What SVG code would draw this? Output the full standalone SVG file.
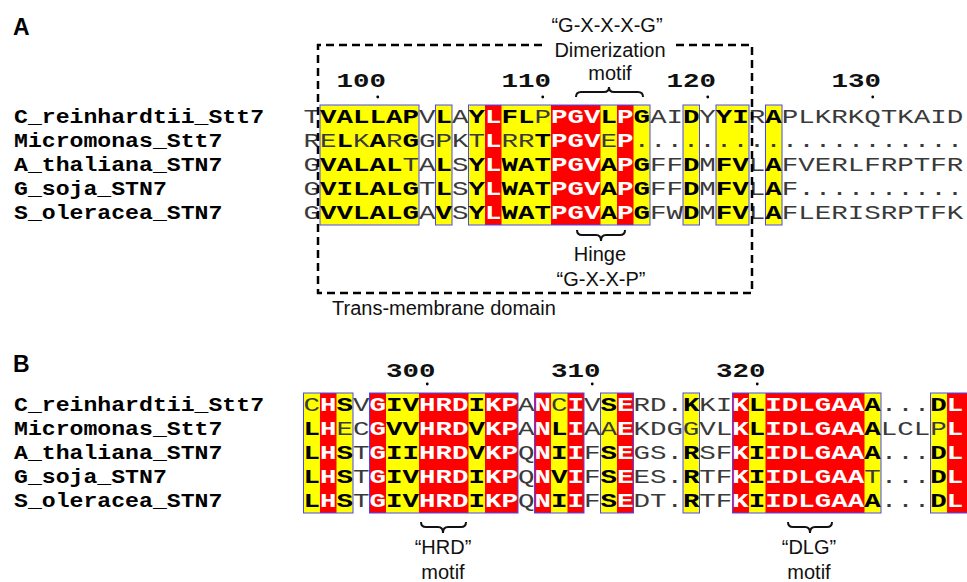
<svg xmlns="http://www.w3.org/2000/svg" width="967" height="582" viewBox="0 0 967 582">
<style>
.seq{font-family:"Liberation Mono","DejaVu Sans Mono",monospace;font-size:20px;}
.nm{font-family:"Liberation Mono","DejaVu Sans Mono",monospace;font-size:20px;font-weight:bold;fill:#000;}
.n{fill:#3a3a3a;}
.b{font-weight:bold;fill:#000;}
.w{font-weight:bold;fill:#fff;}
.num{font-weight:bold;fill:#111;}
.lab{font-family:"Liberation Sans",Arial,sans-serif;font-size:20px;fill:#111;}
.mid{text-anchor:middle;}
.pl{font-family:"Liberation Sans",Arial,sans-serif;font-size:23px;font-weight:bold;fill:#000;}
.y{fill:#ffff00;}
.r{fill:#ff0000;}
.box{fill:none;stroke:#4646ff;stroke-width:1;}
.brace{fill:none;stroke:#111;stroke-width:2;}
.dash{fill:none;stroke:#000;stroke-width:2.5;stroke-dasharray:8 5;}
</style>

<!-- Panel A -->
<g id="panelA">
  <text class="pl" x="13" y="35">A</text>
  <g id="A-shading">
    <rect class="y" x="320" y="105" width="99" height="120"/>
    <rect class="y" x="435.5" y="105" width="16.5" height="120"/>
    <rect class="y" x="468.5" y="105" width="181.5" height="120"/>
    <rect class="y" x="683" y="105" width="16.5" height="120"/>
    <rect class="y" x="716" y="105" width="33" height="120"/>
    <rect class="y" x="765.5" y="105" width="16.5" height="120"/>
    <rect class="r" x="485" y="105" width="16.5" height="120"/>
    <rect class="r" x="551" y="105" width="49.5" height="120"/>
    <rect class="r" x="617" y="105" width="16.5" height="120"/>
    <rect class="box" x="320" y="105" width="99" height="120"/>
    <rect class="box" x="435.5" y="105" width="16.5" height="120"/>
    <rect class="box" x="468.5" y="105" width="181.5" height="120"/>
    <rect class="box" x="683" y="105" width="16.5" height="120"/>
    <rect class="box" x="716" y="105" width="33" height="120"/>
    <rect class="box" x="765.5" y="105" width="16.5" height="120"/>
  </g>
  <g id="A-names" transform="translate(14,0) scale(1.158,1)">
    <text class="nm" x="0" y="123">C_reinhardtii_Stt7</text>
    <text class="nm" x="0" y="147">Micromonas_Stt7</text>
    <text class="nm" x="0" y="171">A_thaliana_STN7</text>
    <text class="nm" x="0" y="195">G_soja_STN7</text>
    <text class="nm" x="0" y="219">S_oleracea_STN7</text>
  </g>
  <g id="A-seq" class="seq" transform="translate(303.5,0) scale(1.375,1)">
    <text class="num" x="24" y="87">100</text>
    <text class="num" x="144" y="87">110</text>
    <text class="num" x="264" y="87">120</text>
    <text class="num" x="384" y="87">130</text>
    <text x="0" y="123"><tspan class="n">T</tspan><tspan class="b">VALLAP</tspan><tspan class="n">V</tspan><tspan class="b">L</tspan><tspan class="n">A</tspan><tspan class="b">Y</tspan><tspan class="w">L</tspan><tspan class="b">FL</tspan><tspan class="n">P</tspan><tspan class="w">PGV</tspan><tspan class="b">L</tspan><tspan class="w">P</tspan><tspan class="b">G</tspan><tspan class="n">AI</tspan><tspan class="b">D</tspan><tspan class="n">Y</tspan><tspan class="b">YI</tspan><tspan class="n">R</tspan><tspan class="b">A</tspan><tspan class="n">PLKRKQTKAID</tspan></text>
    <text x="0" y="147"><tspan class="n">RE</tspan><tspan class="b">L</tspan><tspan class="n">K</tspan><tspan class="b">A</tspan><tspan class="n">R</tspan><tspan class="b">G</tspan><tspan class="n">GPKT</tspan><tspan class="w">L</tspan><tspan class="n">RR</tspan><tspan class="b">T</tspan><tspan class="w">PGV</tspan><tspan class="n">E</tspan><tspan class="w">P</tspan><tspan class="n">....................</tspan></text>
    <text x="0" y="171"><tspan class="n">G</tspan><tspan class="b">VALAL</tspan><tspan class="n">TA</tspan><tspan class="b">L</tspan><tspan class="n">S</tspan><tspan class="b">Y</tspan><tspan class="w">L</tspan><tspan class="b">WAT</tspan><tspan class="w">PGV</tspan><tspan class="b">A</tspan><tspan class="w">P</tspan><tspan class="b">G</tspan><tspan class="n">FF</tspan><tspan class="b">D</tspan><tspan class="n">M</tspan><tspan class="b">FV</tspan><tspan class="n">L</tspan><tspan class="b">A</tspan><tspan class="n">FVERLFRPTFR</tspan></text>
    <text x="0" y="195"><tspan class="n">G</tspan><tspan class="b">VILALG</tspan><tspan class="n">T</tspan><tspan class="b">L</tspan><tspan class="n">S</tspan><tspan class="b">Y</tspan><tspan class="w">L</tspan><tspan class="b">WAT</tspan><tspan class="w">PGV</tspan><tspan class="b">A</tspan><tspan class="w">P</tspan><tspan class="b">G</tspan><tspan class="n">FF</tspan><tspan class="b">D</tspan><tspan class="n">M</tspan><tspan class="b">FV</tspan><tspan class="n">L</tspan><tspan class="b">A</tspan><tspan class="n">F..........</tspan></text>
    <text x="0" y="219"><tspan class="n">G</tspan><tspan class="b">VVLALG</tspan><tspan class="n">A</tspan><tspan class="b">V</tspan><tspan class="n">S</tspan><tspan class="b">Y</tspan><tspan class="w">L</tspan><tspan class="b">WAT</tspan><tspan class="w">PGV</tspan><tspan class="b">A</tspan><tspan class="w">P</tspan><tspan class="b">G</tspan><tspan class="n">FW</tspan><tspan class="b">D</tspan><tspan class="n">M</tspan><tspan class="b">FV</tspan><tspan class="n">L</tspan><tspan class="b">A</tspan><tspan class="n">FLERISRPTFK</tspan></text>
  </g>
  <g id="A-ticks" fill="#000">
    <circle cx="377.75" cy="97" r="1.4"/>
    <circle cx="542.75" cy="97" r="1.4"/>
    <circle cx="707.75" cy="97" r="1.4"/>
    <circle cx="872.75" cy="97" r="1.4"/>
  </g>
  <g id="tm-domain">
    <path class="dash" d="M542,45 H318 V293 H752 V45 H672"/>
    <text class="lab" x="332" y="315">Trans-membrane domain</text>
  </g>
  <g id="dimerization-motif">
    <text class="lab mid" x="607" y="32">“G-X-X-X-G”</text>
    <text class="lab mid" x="610" y="57">Dimerization</text>
    <text class="lab mid" x="610" y="80">motif</text>
    <path class="brace" d="M576,97 Q576,92 581,92 H604 Q609,92 609,87 Q609,92 614,92 H638 Q643,92 643,97"/>
  </g>
  <g id="hinge-motif">
    <path class="brace" d="M577,230 Q577,235 582,235 H596 Q601,235 601,241 Q601,235 606,235 H620 Q625,235 625,230"/>
    <text class="lab mid" x="600" y="261">Hinge</text>
    <text class="lab mid" x="601" y="286">“G-X-X-P”</text>
  </g>
</g>

<!-- Panel B -->
<g id="panelB">
  <text class="pl" x="13" y="372">B</text>
  <g id="B-shading">
    <rect class="y" x="303.5" y="393" width="49.5" height="120"/>
    <rect class="y" x="369.5" y="393" width="148.5" height="120"/>
    <rect class="y" x="534.5" y="393" width="49.5" height="120"/>
    <rect class="y" x="600.5" y="393" width="33" height="120"/>
    <rect class="y" x="683" y="393" width="16.5" height="120"/>
    <rect class="y" x="732.5" y="393" width="148.5" height="120"/>
    <rect class="y" x="930.5" y="393" width="40" height="120"/>
    <rect class="r" x="320" y="393" width="16.5" height="120"/>
    <rect class="r" x="369.5" y="393" width="16.5" height="120"/>
    <rect class="r" x="419" y="393" width="49.5" height="120"/>
    <rect class="r" x="485" y="393" width="33" height="120"/>
    <rect class="r" x="534.5" y="393" width="16.5" height="120"/>
    <rect class="r" x="567.5" y="393" width="16.5" height="120"/>
    <rect class="r" x="617" y="393" width="16.5" height="120"/>
    <rect class="r" x="732.5" y="393" width="16.5" height="120"/>
    <rect class="r" x="765.5" y="393" width="99" height="120"/>
    <rect class="r" x="947" y="393" width="24" height="120"/>
    <rect class="box" x="303.5" y="393" width="49.5" height="120"/>
    <rect class="box" x="369.5" y="393" width="148.5" height="120"/>
    <rect class="box" x="534.5" y="393" width="49.5" height="120"/>
    <rect class="box" x="600.5" y="393" width="33" height="120"/>
    <rect class="box" x="683" y="393" width="16.5" height="120"/>
    <rect class="box" x="732.5" y="393" width="148.5" height="120"/>
    <rect class="box" x="930.5" y="393" width="40" height="120"/>
  </g>
  <g id="B-names" transform="translate(14,0) scale(1.158,1)">
    <text class="nm" x="0" y="411">C_reinhardtii_Stt7</text>
    <text class="nm" x="0" y="435">Micromonas_Stt7</text>
    <text class="nm" x="0" y="459">A_thaliana_STN7</text>
    <text class="nm" x="0" y="483">G_soja_STN7</text>
    <text class="nm" x="0" y="507">S_oleracea_STN7</text>
  </g>
  <g id="B-seq" class="seq" transform="translate(303.5,0) scale(1.375,1)">
    <text class="num" x="60" y="377">300</text>
    <text class="num" x="180" y="377">310</text>
    <text class="num" x="300" y="377">320</text>
    <text x="0" y="411"><tspan class="n">C</tspan><tspan class="w">H</tspan><tspan class="b">S</tspan><tspan class="n">V</tspan><tspan class="w">G</tspan><tspan class="b">IV</tspan><tspan class="w">HRD</tspan><tspan class="b">I</tspan><tspan class="w">KP</tspan><tspan class="n">A</tspan><tspan class="w">N</tspan><tspan class="n">C</tspan><tspan class="w">I</tspan><tspan class="n">V</tspan><tspan class="b">S</tspan><tspan class="w">E</tspan><tspan class="n">RD.</tspan><tspan class="b">K</tspan><tspan class="n">KI</tspan><tspan class="w">K</tspan><tspan class="b">L</tspan><tspan class="w">IDLGAA</tspan><tspan class="b">A</tspan><tspan class="n">...</tspan><tspan class="b">D</tspan><tspan class="w">L</tspan></text>
    <text x="0" y="435"><tspan class="b">L</tspan><tspan class="w">H</tspan><tspan class="n">EC</tspan><tspan class="w">G</tspan><tspan class="b">VV</tspan><tspan class="w">HRD</tspan><tspan class="b">V</tspan><tspan class="w">KP</tspan><tspan class="n">A</tspan><tspan class="w">N</tspan><tspan class="b">L</tspan><tspan class="w">I</tspan><tspan class="n">AA</tspan><tspan class="w">E</tspan><tspan class="n">KDGGVL</tspan><tspan class="w">K</tspan><tspan class="b">L</tspan><tspan class="w">IDLGAA</tspan><tspan class="b">A</tspan><tspan class="n">LCLP</tspan><tspan class="w">L</tspan></text>
    <text x="0" y="459"><tspan class="b">L</tspan><tspan class="w">H</tspan><tspan class="b">S</tspan><tspan class="n">T</tspan><tspan class="w">G</tspan><tspan class="b">II</tspan><tspan class="w">HRD</tspan><tspan class="b">V</tspan><tspan class="w">KP</tspan><tspan class="n">Q</tspan><tspan class="w">N</tspan><tspan class="b">I</tspan><tspan class="w">I</tspan><tspan class="n">F</tspan><tspan class="b">S</tspan><tspan class="w">E</tspan><tspan class="n">GS.</tspan><tspan class="b">R</tspan><tspan class="n">SF</tspan><tspan class="w">K</tspan><tspan class="b">I</tspan><tspan class="w">IDLGAA</tspan><tspan class="b">A</tspan><tspan class="n">...</tspan><tspan class="b">D</tspan><tspan class="w">L</tspan></text>
    <text x="0" y="483"><tspan class="b">L</tspan><tspan class="w">H</tspan><tspan class="b">S</tspan><tspan class="n">T</tspan><tspan class="w">G</tspan><tspan class="b">IV</tspan><tspan class="w">HRD</tspan><tspan class="b">I</tspan><tspan class="w">KP</tspan><tspan class="n">Q</tspan><tspan class="w">N</tspan><tspan class="b">V</tspan><tspan class="w">I</tspan><tspan class="n">F</tspan><tspan class="b">S</tspan><tspan class="w">E</tspan><tspan class="n">ES.</tspan><tspan class="b">R</tspan><tspan class="n">TF</tspan><tspan class="w">K</tspan><tspan class="b">I</tspan><tspan class="w">IDLGAA</tspan><tspan class="n">T...</tspan><tspan class="b">D</tspan><tspan class="w">L</tspan></text>
    <text x="0" y="507"><tspan class="b">L</tspan><tspan class="w">H</tspan><tspan class="b">S</tspan><tspan class="n">T</tspan><tspan class="w">G</tspan><tspan class="b">IV</tspan><tspan class="w">HRD</tspan><tspan class="b">I</tspan><tspan class="w">KP</tspan><tspan class="n">Q</tspan><tspan class="w">N</tspan><tspan class="b">I</tspan><tspan class="w">I</tspan><tspan class="n">F</tspan><tspan class="b">S</tspan><tspan class="w">E</tspan><tspan class="n">DT.</tspan><tspan class="b">R</tspan><tspan class="n">TF</tspan><tspan class="w">K</tspan><tspan class="b">I</tspan><tspan class="w">IDLGAA</tspan><tspan class="b">A</tspan><tspan class="n">...</tspan><tspan class="b">D</tspan><tspan class="w">L</tspan></text>
  </g>
  <g id="B-ticks" fill="#000">
    <circle cx="427.25" cy="384" r="1.4"/>
    <circle cx="592.25" cy="384" r="1.4"/>
    <circle cx="757.25" cy="384" r="1.4"/>
  </g>
  <g id="hrd-motif">
    <path class="brace" d="M421,522 Q421,527 426,527 H438 Q443,527 443,533 Q443,527 448,527 H461 Q466,527 466,522"/>
    <text class="lab mid" x="443" y="554">“HRD”</text>
    <text class="lab mid" x="443" y="579">motif</text>
  </g>
  <g id="dlg-motif">
    <path class="brace" d="M788,522 Q788,527 793,527 H805 Q810,527 810,533 Q810,527 815,527 H827 Q832,527 832,522"/>
    <text class="lab mid" x="809" y="554">“DLG”</text>
    <text class="lab mid" x="809" y="579">motif</text>
  </g>
</g>
</svg>
